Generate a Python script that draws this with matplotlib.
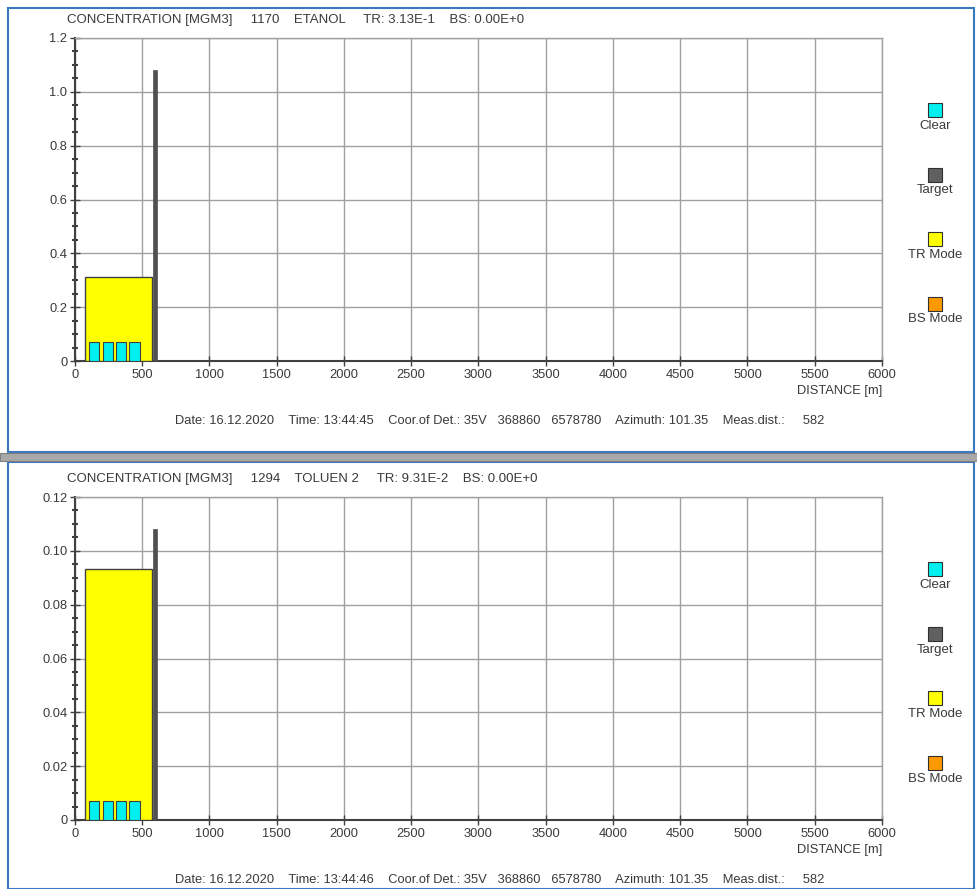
import matplotlib
matplotlib.use("Agg")
from matplotlib import pyplot as plt
from matplotlib.patches import Rectangle

# data
clear_left = [105, 205, 305, 405]
clear_width = 75
tr_left = 75
tr_width = 500
target_left = 577
target_width = 36

panels = [
    {"title": "CONCENTRATION [MGM3]     1170    ETANOL     TR: 3.13E-1    BS: 0.00E+0",
     "clear": [0.07, 0.07, 0.07, 0.07], "tr": 0.313, "target": 1.08,
     "ymax": 1.2, "yticks": [0, 0.2, 0.4, 0.6, 0.8, 1.0, 1.2],
     "ylabels": ["0", "0.2", "0.4", "0.6", "0.8", "1.0", "1.2"],
     "time": "13:44:45"},
    {"title": "CONCENTRATION [MGM3]     1294    TOLUEN 2     TR: 9.31E-2    BS: 0.00E+0",
     "clear": [0.007, 0.007, 0.007, 0.007], "tr": 0.0931, "target": 0.108,
     "ymax": 0.12, "yticks": [0, 0.02, 0.04, 0.06, 0.08, 0.10, 0.12],
     "ylabels": ["0", "0.02", "0.04", "0.06", "0.08", "0.10", "0.12"],
     "time": "13:44:46"},
]
xticks = list(range(0, 6001, 500))
legend_names = ["Clear", "Target", "TR Mode", "BS Mode"]
legend_colors = ["#00f0f0", "#606060", "#ffff00", "#ff9900"]

plt.rcParams['font.family'] = ['Liberation Sans', 'DejaVu Sans']

W, H = 978, 889
fig = plt.figure(figsize=(W / 100, H / 100), dpi=100)
fig.patch.set_facecolor("white")

# blue frame + gray divider
blue = "#3a78c0"
fig.add_artist(Rectangle((8 / W, 1 - 452 / H), 966 / W, 444 / H, transform=fig.transFigure,
                         fill=False, edgecolor=blue, linewidth=1.5))
fig.add_artist(Rectangle((8 / W, 0), 966 / W, 1 - 462 / H, transform=fig.transFigure,
                         fill=False, edgecolor=blue, linewidth=1.5))
fig.add_artist(Rectangle((0, 1 - 461 / H), 1, 8 / H, transform=fig.transFigure,
                         facecolor="#a8a8a8", edgecolor="#808080", linewidth=0.8))

txtc = "#3a3a3a"
fs = 9.3
axes_top = [38, 497]
panel_off = [0, 459]

for p, top_px, off in zip(panels, axes_top, panel_off):
    ax = fig.add_axes([75 / W, 1 - (top_px + 323) / H, 807 / W, 323 / H])
    ax.set_xlim(0, 6000)
    ax.set_ylim(0, p["ymax"])

    ax.bar(tr_left, p["tr"], width=tr_width, align="edge", color="#ffff00",
           edgecolor="#404040", linewidth=1.0, zorder=3)
    ax.bar(clear_left, p["clear"], width=clear_width, align="edge", color="#00f0f0",
           edgecolor="#404040", linewidth=0.8, zorder=4)
    ax.bar(target_left, p["target"], width=target_width, align="edge", color="#505050",
           edgecolor="#505050", linewidth=0.5, zorder=4)

    ax.set_xticks(xticks)
    ax.set_xticklabels([str(x) for x in xticks], fontsize=fs, color=txtc)
    ax.set_yticks(p["yticks"])
    ax.set_yticklabels(p["ylabels"], fontsize=fs, color=txtc)
    ax.set_yticks([p["ymax"] / 24 * i for i in range(25)], minor=True)
    ax.tick_params(axis="y", which="minor", direction="inout", length=4, width=1.5, color="#404040")
    ax.tick_params(axis="y", which="major", direction="inout", length=7, width=1.0, color="#404040", pad=2)
    ax.tick_params(axis="x", which="major", direction="inout", length=7, width=1.0, color="#404040", pad=2)
    ax.grid(True, color="#a0a0a0", linewidth=1.0, zorder=0)
    ax.set_axisbelow(True)
    for s in ["top", "right"]:
        ax.spines[s].set_color("#a0a0a0")
        ax.spines[s].set_linewidth(1.0)
    for s in ["left", "bottom"]:
        ax.spines[s].set_color("#404040")
        ax.spines[s].set_linewidth(1.5)

    fig.text(67 / W, 1 - (off + 20) / H, p["title"], fontsize=9.5, color=txtc, va="center")
    fig.text(882 / W, 1 - (off + 391) / H, "DISTANCE [m]", fontsize=fs, color=txtc,
             ha="right", va="center")
    footer = ("Date: 16.12.2020    Time: " + p["time"] + "    Coor.of Det.: 35V   368860   6578780"
              "    Azimuth: 101.35    Meas.dist.:     582")
    fig.text(500 / W, 1 - (off + 421) / H, footer, fontsize=fs, color=txtc, ha="center", va="center")

    for i, (name, col) in enumerate(zip(legend_names, legend_colors)):
        y = off + 110 + i * 64.5
        fig.patches.append(Rectangle(((935 - 7) / W, 1 - (y + 7) / H), 14 / W, 14 / H,
                                     transform=fig.transFigure, facecolor=col,
                                     edgecolor="#303030", linewidth=0.8))
        fig.text(935 / W, 1 - (y + 16) / H, name, fontsize=9.5, color=txtc, ha="center", va="center")

fig.savefig("out.png", dpi=100)
